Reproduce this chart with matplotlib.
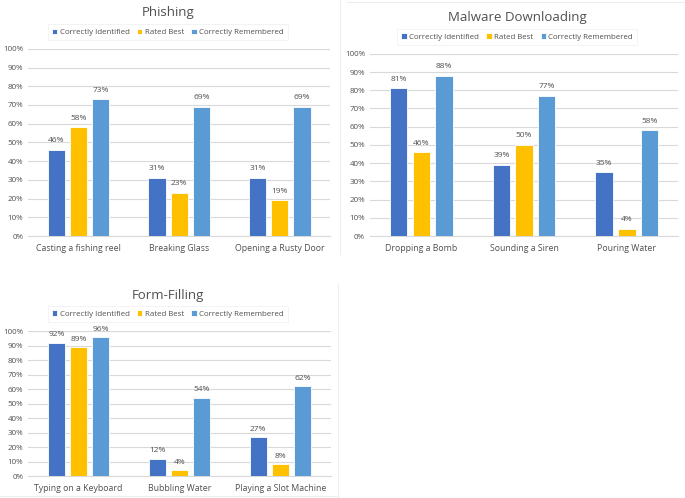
import numpy as np
from matplotlib import pyplot as plt
from matplotlib.lines import Line2D

# chart data
series = ["Correctly Identified", "Rated Best", "Correctly Remembered"]
colors = ["#4472C4", "#FFC000", "#5B9BD5"]

phishing_cats = ["Casting a fishing reel", "Breaking Glass", "Opening a Rusty Door"]
phishing_vals = [[46, 31, 31], [58, 23, 19], [73, 69, 69]]

malware_cats = ["Dropping a Bomb", "Sounding a Siren", "Pouring Water"]
malware_vals = [[81, 39, 35], [46, 50, 4], [88, 77, 58]]

form_cats = ["Typing on a Keyboard", "Bubbling Water", "Playing a Slot Machine"]
form_vals = [[92, 12, 27], [89, 4, 8], [96, 54, 62]]

yticks = list(range(0, 101, 10))
ytick_labels = [f"{t}%" for t in yticks]

plt.rcParams["font.family"] = ["Open Sans", "DejaVu Sans"]
text_col = "#505050"
grid_col = "#D9D9D9"

fig = plt.figure(figsize=(6.85, 4.98), dpi=100)

panels = [
    ("Phishing", phishing_cats, phishing_vals, [0.041, 0.526, 0.441, 0.376], 0.245, 0.975, 0.935),
    ("Malware Downloading", malware_cats, malware_vals, [0.540, 0.526, 0.450, 0.366], 0.755, 0.965, 0.926),
    ("Form-Filling", form_cats, form_vals, [0.041, 0.044, 0.442, 0.291], 0.245, 0.407, 0.37),
]

for title, cats, vals, rect, cx, ty, ly in panels:
    ax = fig.add_axes(rect)
    x = np.arange(len(cats))
    offsets = [-0.22, 0, 0.22]
    for i, name in enumerate(series):
        bars = ax.bar(x + offsets[i], vals[i], width=0.17, color=colors[i],
                      edgecolor="white", linewidth=0.6, label=name, zorder=3)
        for b, v in zip(bars, vals[i]):
            ax.text(b.get_x() + b.get_width() / 2, v + 3, f"{v}%", ha="center",
                    va="bottom", fontsize=6, color=text_col)
    ax.set_xlim(-0.5, 2.5)
    ax.set_ylim(0, 100)
    ax.set_yticks(yticks)
    ax.set_yticklabels(ytick_labels)
    ax.set_xticks(x)
    ax.set_xticklabels(cats)
    ax.tick_params(axis="both", length=0, labelsize=5.8, colors=text_col)
    ax.tick_params(axis="x", pad=6, labelsize=6.3)
    ax.grid(axis="y", color=grid_col, linewidth=0.8, zorder=0)
    for s in ["top", "right", "left"]:
        ax.spines[s].set_visible(False)
    ax.spines["bottom"].set_color(grid_col)
    fig.text(cx, ty, title, ha="center", va="center", fontsize=9.5, color=text_col)
    leg = ax.legend(loc="center", bbox_to_anchor=(cx, ly), bbox_transform=fig.transFigure,
                    ncol=3, fontsize=5.7, frameon=True, fancybox=False,
                    handlelength=0.7, handleheight=0.7, handletextpad=0.3,
                    columnspacing=0.9, borderpad=0.55)
    leg.get_frame().set_edgecolor("#EEEEEE")
    leg.get_frame().set_linewidth(0.6)
    for t in leg.get_texts():
        t.set_color(text_col)

# faint panel borders
fig.add_artist(Line2D([0.497, 0.497], [0.49, 1.0], color="#EEEEEE", lw=0.8))
fig.add_artist(Line2D([0.507, 1.0], [0.996, 0.996], color="#EEEEEE", lw=0.8))
fig.add_artist(Line2D([0.0, 0.494], [0.004, 0.004], color="#EEEEEE", lw=0.8))
fig.add_artist(Line2D([0.494, 0.494], [0.0, 0.43], color="#EEEEEE", lw=0.8))

plt.savefig("out.png", dpi=100)
